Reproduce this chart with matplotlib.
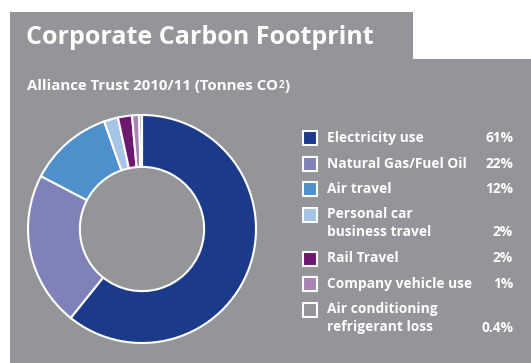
import matplotlib.pyplot as plt
from matplotlib.patches import Polygon, Rectangle

# data
labels = ["Electricity use", "Natural Gas/Fuel Oil", "Air travel",
          "Personal car\nbusiness travel", "Rail Travel",
          "Company vehicle use", "Air conditioning\nrefrigerant loss"]
shares = [61, 22, 12, 2, 2, 1, 0.4]
share_text = ["61%", "22%", "12%", "2%", "2%", "1%", "0.4%"]
colors = ["#1b3a8a", "#7f82b9", "#4d90cc", "#a6c4e6", "#6e1770", "#a683b3", "#939598"]

panel = "#939598"
W, H = 531, 363
font = "Open Sans"

fig = plt.figure(figsize=(W / 100, H / 100), dpi=100, facecolor="white")

# background in pixel coords
bg = fig.add_axes([0, 0, 1, 1])
bg.set_xlim(0, W)
bg.set_ylim(H, 0)
bg.axis("off")
bg.add_patch(Polygon([(10, 12), (413, 12), (413, 59), (W, 59), (W, H), (10, H)],
                     closed=True, facecolor=panel, edgecolor="none"))

bg.text(26, 37, "Corporate Carbon Footprint", color="white", fontsize=18,
        fontweight="bold", family=font, va="center", ha="left")
sub = bg.text(27, 86, "Alliance Trust 2010/11 (Tonnes CO", color="white",
              fontsize=10.8, fontweight="bold", family=font, va="center", ha="left")
sub2 = bg.annotate("2", xy=(1, 0.12), xycoords=sub, xytext=(0.5, 0),
                   textcoords="offset points", color="white", fontsize=7,
                   fontweight="bold", family=font, va="bottom", ha="left")
bg.annotate(")", xy=(1, 0.5), xycoords=(sub2, sub), xytext=(0.3, 0),
            textcoords="offset points", color="white", fontsize=10.8,
            fontweight="bold", family=font, va="center", ha="left")

# donut
cx, cy, r = 142, 229, 114
pad = 1.08
ax = fig.add_axes([(cx - r * pad) / W, 1 - (cy + r * pad) / H,
                   2 * r * pad / W, 2 * r * pad / H])
ax.pie(shares, colors=colors, startangle=90, counterclock=False,
       wedgeprops=dict(width=0.455, edgecolor="white", linewidth=1.5))
ax.set_xlim(-pad, pad)
ax.set_ylim(-pad, pad)
ax.set_aspect("equal")
ax.axis("off")

# legend
y = 138
for lab, pct, col in zip(labels, share_text, colors):
    lines = lab.split("\n")
    bg.add_patch(Rectangle((303, y - 7), 14, 14, facecolor=col,
                           edgecolor="white", linewidth=1.5))
    for i, line in enumerate(lines):
        bg.text(327, y + 18 * i, line, color="white", fontsize=9.9,
                fontweight="bold", family=font, va="center", ha="left")
    bg.text(513, y + 18 * (len(lines) - 1), pct, color="white", fontsize=9.9,
            fontweight="bold", family=font, va="center", ha="right")
    y += 25.5 + 18.5 * (len(lines) - 1)

fig.savefig("out.png", dpi=100, facecolor="white")
